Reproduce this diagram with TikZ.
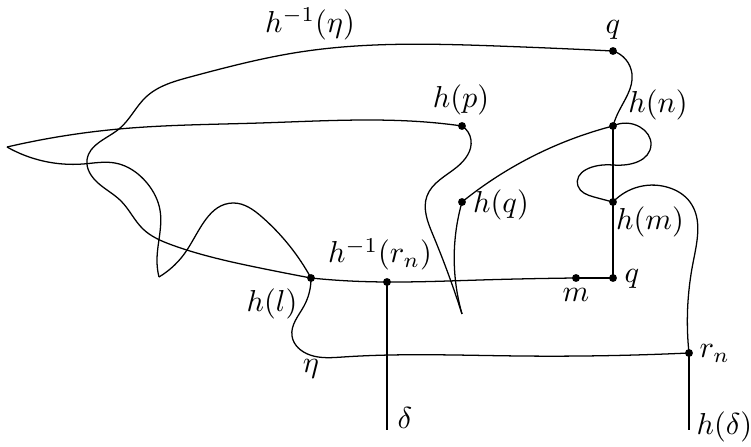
\documentclass[tikz,border=0pt]{standalone}
\usetikzlibrary{hobby}
\begin{document}
\begin{tikzpicture}[x=0.33pt,y=-0.33pt,
  curve/.style={line width=0.42pt, line join=round, use Hobby shortcut},
  dot/.style={circle, fill=black, inner sep=0pt, minimum size=2.6pt},
  lab/.style={inner sep=0pt, anchor=base}]
\useasboundingbox (0,0) rectangle (751,447);
% points
\coordinate (qT) at (613,51);
\coordinate (hp) at (462,126);
\coordinate (hn) at (613,126);
\coordinate (hq) at (462,202);
\coordinate (hm) at (613,202);
\coordinate (hl) at (311,278);
\coordinate (hr) at (387,282);
\coordinate (m) at (576,278);
\coordinate (qB) at (613,278);
\coordinate (rn) at (689,353);
\coordinate (dEnd) at (387,430);
\coordinate (hdEnd) at (689,430);
\coordinate (tipL) at (7,147);
\coordinate (tipB) at (462,314);
\coordinate (tipV) at (159,277);
% h^{-1}(eta)
\draw[curve] (qT) .. (497,46) .. (300,52) .. (190,77) .. (146,97) .. (119,129) .. (87,160) .. (98,183) .. (121,201) .. (143,229) .. (172,245) .. (260,268) .. (hl);
% h(p) leftwards to tip
\draw[curve] (hp) .. (437,123) .. (260,123) .. (119,129) .. (tipL);
\draw[curve] (tipL) .. (83,164) .. (115,163) .. (147,183) .. (160,210) .. (157,262) .. (tipV);
\draw[curve] (tipV) .. (187,250) .. (233,203) .. (262,217) .. (hl);
% eta
\draw[curve] (hl) .. (304,306) .. (292,336) .. (310,355) .. (343,357) .. (520,356) .. (rn);
% h(p) down to tip and up to h(q)
\draw[curve] (hp) .. (471,140) .. (457,167) .. (427,196) .. (433,235) .. (tipB);
\draw[curve] (tipB) .. (455,240) .. (hq);
% h(q) to h(n)
\draw[curve] (hq) .. (520,163) .. (hn);
% h(n) loop to h(m)
\draw[curve] (hn) .. (640,127) .. (651,145) .. (613,165) .. (578,186) .. (594,197) .. (hm);
% h(m) to r_n and down
\draw[curve] (hm) .. (670,188) .. (690,202) .. (693,263) .. (rn);
\draw[line width=0.42pt] (rn) -- (hdEnd);
% q top to h(n)
\draw[curve] (qT) .. (632,74) .. (618,113) .. (hn);
% straight pieces
\draw[curve] (hl) .. (350,281) .. (hr) .. (480,280) .. (m);
\draw[line width=0.42pt] (m) -- (qB) -- (hm) -- (hn);
\draw[line width=0.42pt] (hr) -- (dEnd);
% dots
\foreach \p in {qT,hp,hn,hq,hm,hl,hr,m,qB,rn}
  \node[dot] (d\p) at (\p) {};
% labels
\node[lab] (LqT) at (613,33) {$q$};
\node[lab] (Leta1) at (310,32) {$h^{-1}(\eta)$};
\node[lab] (Lhp) at (461,108) {$h(p)$};
\node[lab] (Lhn) at (658,113) {$h(n)$};
\node[lab] (Lhq) at (501,213) {$h(q)$};
\node[lab] (Lhm) at (650,230) {$h(m)$};
\node[lab] (Lhr) at (380,263) {$h^{-1}(r_n)$};
\node[lab] (Lm) at (576,302) {$m$};
\node[lab] (LqB) at (632,283) {$q$};
\node[lab, anchor=base west] (Lrn) at (699,358) {$r_n$};
\node[lab] (Ld) at (405,429) {$\delta$};
\node[lab, anchor=base west] (Lhd) at (696,435) {$h(\delta)$};
\node[lab] (Lhl) at (272,312) {$h(l)$};
\node[lab] (Leta) at (311,373) {$\eta$};
\end{tikzpicture}
\end{document}
